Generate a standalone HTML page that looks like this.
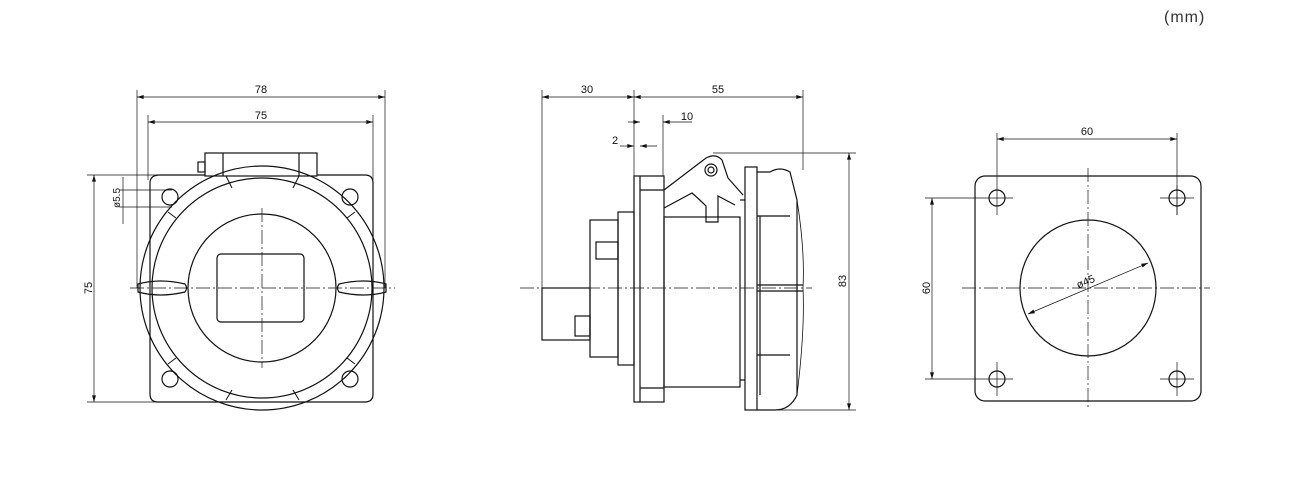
<!DOCTYPE html>
<html><head><meta charset="utf-8"><style>
html,body{margin:0;padding:0;background:#fff;}
svg{display:block;}
text{font-family:"Liberation Sans",sans-serif;fill:#111;}
</style></head><body>
<svg width="1292" height="500" viewBox="0 0 1292 500" xmlns="http://www.w3.org/2000/svg">
<defs>
<marker id="a" viewBox="0 0 10 6" refX="10" refY="3" markerWidth="8" markerHeight="4" orient="auto-start-reverse" markerUnits="userSpaceOnUse"><path d="M0,0 L10,3 L0,6z" fill="#111"/></marker>
</defs>
<text x="1164" y="22" font-size="16" letter-spacing="1" style="font-family:'Liberation Sans','Noto Sans CJK JP',sans-serif;fill:#333">(mm)</text>

<!-- LEFT VIEW -->
<g stroke="#111" fill="none" stroke-width="1.2">
<g stroke-width="0.7">
<line x1="137" y1="90" x2="137" y2="288"/><line x1="385" y1="90" x2="385" y2="288"/>
<line x1="137" y1="97" x2="385" y2="97" marker-start="url(#a)" marker-end="url(#a)"/>
<line x1="148" y1="115" x2="148" y2="180"/><line x1="373" y1="115" x2="373" y2="180"/>
<line x1="148" y1="122" x2="373" y2="122" marker-start="url(#a)" marker-end="url(#a)"/>
<line x1="87" y1="175" x2="160" y2="175"/><line x1="87" y1="402" x2="160" y2="402"/>
<line x1="94" y1="175" x2="94" y2="402" marker-start="url(#a)" marker-end="url(#a)"/>
<line x1="120" y1="190" x2="172" y2="190"/><line x1="120" y1="207" x2="172" y2="207"/>
<line x1="123" y1="177" x2="123" y2="224"/>
<line x1="262" y1="208" x2="262" y2="368" stroke-dasharray="14,3,2,3"/>
<line x1="130" y1="288" x2="395" y2="288" stroke-dasharray="14,3,2,3"/>
</g>
<path d="M160,175 H205 M317,175 H365 Q373,175 373,183 V394 Q373,402 365,402 H158 Q150,402 150,394 V183 Q150,175 160,175"/>
<rect x="205" y="153" width="112" height="23"/>
<line x1="223" y1="153" x2="223" y2="176"/><line x1="299" y1="153" x2="299" y2="176"/>
<rect x="198" y="162" width="7" height="10"/>
<circle cx="170" cy="197" r="8"/><circle cx="350" cy="197" r="8"/>
<circle cx="170" cy="379" r="8"/><circle cx="350" cy="379" r="8"/>
<circle cx="262" cy="288" r="122"/>
<circle cx="262" cy="288" r="110"/>
<circle cx="262" cy="288" r="74"/>
<rect x="217" y="254" width="87" height="68" rx="4"/>
<path d="M138,284 Q160,278 185,284 Q188,288 185,292 Q160,298 138,292 Z"/>
<path d="M386,284 Q364,278 339,284 Q336,288 339,292 Q364,298 386,292 Z"/>
<g stroke-width="1">
<path d="M226,176 L232,188 M299,176 L293,188 M168,212 L176,218 M355,212 L347,218 M168,364 L176,358 M355,364 L347,358 M226,400 L232,390 M299,400 L293,390"/>
</g>
</g>
<text x="261" y="93" font-size="11" text-anchor="middle">78</text>
<text x="261" y="119" font-size="11" text-anchor="middle">75</text>
<text transform="translate(92,288) rotate(-90)" font-size="11" text-anchor="middle">75</text>
<text transform="translate(120,198) rotate(-90)" font-size="10" text-anchor="middle">ø5.5</text>

<!-- MIDDLE VIEW -->
<g stroke="#111" fill="none" stroke-width="1.2">
<g stroke-width="0.7">
<line x1="542" y1="90" x2="542" y2="288"/><line x1="634" y1="90" x2="634" y2="176"/><line x1="803" y1="90" x2="803" y2="170"/>
<line x1="542" y1="97" x2="634" y2="97" marker-start="url(#a)" marker-end="url(#a)"/>
<line x1="634" y1="97" x2="803" y2="97" marker-start="url(#a)" marker-end="url(#a)"/>
<line x1="663" y1="115" x2="663" y2="176"/>
<line x1="628" y1="122" x2="640" y2="122" marker-end="url(#a)"/>
<line x1="663" y1="122" x2="692" y2="122" marker-start="url(#a)"/>
<line x1="620" y1="146" x2="634" y2="146" marker-end="url(#a)"/>
<line x1="640" y1="146" x2="657" y2="146" marker-start="url(#a)"/>
<line x1="713" y1="153" x2="856" y2="153"/><line x1="760" y1="410" x2="856" y2="410"/>
<line x1="849" y1="153" x2="849" y2="410" marker-start="url(#a)" marker-end="url(#a)"/>
<line x1="520" y1="288" x2="812" y2="288" stroke-dasharray="14,3,2,3"/>
</g>
<rect x="634" y="176" width="30" height="226"/>
<line x1="640" y1="176" x2="640" y2="402"/>
<line x1="640" y1="190" x2="664" y2="190"/><line x1="640" y1="388" x2="664" y2="388"/>
<rect x="664" y="217" width="76" height="170"/>
<rect x="618" y="212" width="16" height="153"/>
<rect x="590" y="220" width="28" height="137"/>
<rect x="542" y="288" width="48" height="52"/>
<rect x="596" y="242" width="22" height="17"/><rect x="575" y="316" width="15" height="20"/>
<path d="M664,190 L706,158 Q716,153 722,160 L728,178 L743,195 M664,208 L692,193 Q700,200 706,206 V222 H718 V196 L735,205"/>
<circle cx="711" cy="170" r="6"/><circle cx="711" cy="170" r="3"/>
<rect x="745" y="167" width="12" height="243"/>
<path d="M757,172 H770 Q780,166 790,172 L797,200 V395 Q790,410 775,410 H757"/>
<line x1="757" y1="216" x2="790" y2="216"/><line x1="760" y1="216" x2="760" y2="395"/>
<line x1="757" y1="285" x2="803" y2="285"/><line x1="757" y1="291" x2="803" y2="291"/>
<line x1="757" y1="355" x2="790" y2="355"/>
<line x1="740" y1="200" x2="745" y2="200"/><line x1="740" y1="380" x2="745" y2="380"/>
<path d="M797,200 Q805,250 803,288 Q805,330 797,395" stroke-width="0.8"/>
</g>
<text x="587" y="93" font-size="11" text-anchor="middle">30</text>
<text x="718" y="93" font-size="11" text-anchor="middle">55</text>
<text x="687" y="120" font-size="11" text-anchor="middle">10</text>
<text x="615" y="144" font-size="11" text-anchor="middle">2</text>
<text transform="translate(846,281) rotate(-90)" font-size="11" text-anchor="middle">83</text>

<!-- RIGHT VIEW -->
<g stroke="#111" fill="none" stroke-width="1.2">
<g stroke-width="0.7">
<line x1="997" y1="133" x2="997" y2="215"/><line x1="1177" y1="133" x2="1177" y2="215"/>
<line x1="997" y1="139" x2="1177" y2="139" marker-start="url(#a)" marker-end="url(#a)"/>
<line x1="925" y1="198" x2="1013" y2="198"/><line x1="925" y1="379" x2="1013" y2="379"/>
<line x1="932" y1="198" x2="932" y2="379" marker-start="url(#a)" marker-end="url(#a)"/>
<line x1="1160" y1="198" x2="1194" y2="198"/><line x1="1160" y1="379" x2="1194" y2="379"/>
<line x1="1177" y1="185" x2="1177" y2="215"/><line x1="997" y1="362" x2="997" y2="396"/><line x1="1177" y1="362" x2="1177" y2="396"/>
<line x1="1088" y1="168" x2="1088" y2="410" stroke-dasharray="14,3,2,3"/>
<line x1="962" y1="288" x2="1210" y2="288" stroke-dasharray="14,3,2,3"/>
<line x1="1028" y1="314" x2="1148" y2="263" marker-start="url(#a)" marker-end="url(#a)"/>
</g>
<rect x="975" y="176" width="226" height="225" rx="10"/>
<circle cx="997" cy="198" r="8"/><circle cx="1177" cy="198" r="8"/>
<circle cx="997" cy="379" r="8"/><circle cx="1177" cy="379" r="8"/>
<circle cx="1088" cy="288" r="68"/>
</g>
<text x="1087" y="135" font-size="11" text-anchor="middle">60</text>
<text transform="translate(930,288) rotate(-90)" font-size="11" text-anchor="middle">60</text>
<text transform="translate(1087,285) rotate(-23)" font-size="11" text-anchor="middle">ø45</text>
</svg>
</body></html>
